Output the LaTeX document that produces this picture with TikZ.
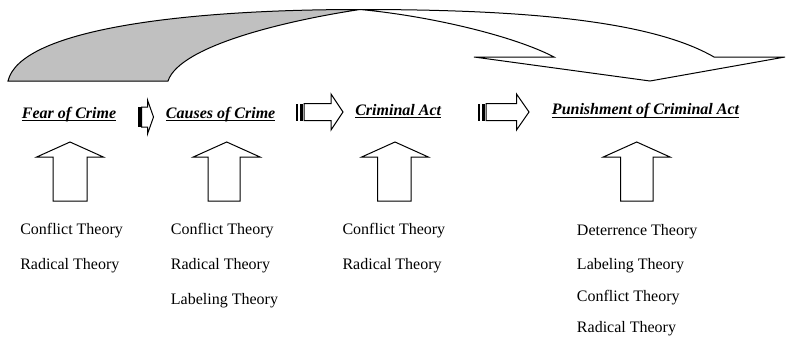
\documentclass[tikz,border=0pt]{standalone}
\usepackage{fontspec}
\setmainfont{Liberation Serif}
\newcommand{\ultitle}[1]{\setbox0\hbox{\bfseries\itshape #1}\rlap{\rule[-2.4pt]{\wd0}{0.6pt}}\box0}

\begin{document}
\begin{tikzpicture}[x=0.75pt,y=0.75pt,yscale=-1,xscale=1,
  title/.style={anchor=base west,inner sep=0pt,font=\fontsize{12}{14}\selectfont},
  theory/.style={anchor=base west,inner sep=0pt,font=\fontsize{12}{14}\selectfont},
  blk/.style={draw=black,line width=0.75pt,fill=white,line join=miter}]
\useasboundingbox (0,0) rectangle (787,339);

%Shape: Curved Down Arrow, back part
\draw  [blk,fill={rgb, 255:red, 192; green, 192; blue, 192 }] (8,81) .. controls (20,30) and (180,9.5) .. (360,9.5) .. controls (290,20) and (180,45) .. (168,81) -- cycle ;
%Shape: Curved Down Arrow, front part
\draw  [blk] (360,9.5) .. controls (520,9.5) and (650,20) .. (714,57) -- (785,57) -- (650,81) -- (474,57) -- (554,57) .. controls (514,36) and (430,16) .. (360,9.5) -- cycle ;

%Shape: Striped Right Arrow
\fill (137.5,107) rectangle (141.5,127) ;
\draw  [blk] (141.5,107) -- (147.5,107) -- (147.5,100) -- (153.5,117) -- (147.5,134) -- (147.5,127) -- (141.5,127) -- cycle ;
%Shape: Striped Right Arrow
\fill (296,103.5) rectangle (298,120.5) ;
\fill (299.5,103.5) rectangle (302.5,120.5) ;
\draw  [blk] (304,103.5) -- (331,103.5) -- (331,94) -- (343,112) -- (331,130) -- (331,120.5) -- (304,120.5) -- cycle ;
%Shape: Striped Right Arrow
\fill (478,103.5) rectangle (480,120.5) ;
\fill (481.5,103.5) rectangle (484.5,120.5) ;
\draw  [blk] (486,103.5) -- (516.5,103.5) -- (516.5,94) -- (529,112) -- (516.5,130) -- (516.5,120.5) -- (486,120.5) -- cycle ;

%Shape: Up Arrow
\draw  [blk] (70,142) -- (103.3,157) -- (87,157) -- (87,201) -- (53,201) -- (53,157) -- (36.7,157) -- cycle ;
%Shape: Up Arrow
\draw  [blk] (226.7,142) -- (260,157) -- (240,157) -- (240,201) -- (208,201) -- (208,157) -- (193.3,157) -- cycle ;
%Shape: Up Arrow
\draw  [blk] (395,142) -- (428.3,157) -- (411,157) -- (411,201) -- (377.5,201) -- (377.5,157) -- (361.7,157) -- cycle ;
%Shape: Up Arrow
\draw  [blk] (636.7,142) -- (670,157) -- (653,157) -- (653,201) -- (620.5,201) -- (620.5,157) -- (603.3,157) -- cycle ;

% Text Node
\draw (21.7,118) node [title] (fear) {\ultitle{Fear of Crime}};
% Text Node
\draw (165.7,118) node [title] (causes) {\ultitle{Causes of Crime}};
% Text Node
\draw (355,115) node [title] (act) {\ultitle{Criminal Act}};
% Text Node
\draw (551.7,114.5) node [title] (punish) {\ultitle{Punishment of Criminal Act}};

% Text Node
\draw (20,234.5) node [theory] (fearconf) {Conflict Theory};
% Text Node
\draw (20,269.5) node [theory] (fearrad) {Radical Theory};
% Text Node
\draw (170.7,234.5) node [theory] (causeconf) {Conflict Theory};
% Text Node
\draw (170.7,269.5) node [theory] (causerad) {Radical Theory};
% Text Node
\draw (170.7,304.5) node [theory] (causelab) {Labeling Theory};
% Text Node
\draw (342.3,234.5) node [theory] (actconf) {Conflict Theory};
% Text Node
\draw (342.3,269.5) node [theory] (actrad) {Radical Theory};
% Text Node
\draw (576.7,235) node [theory] (pundet) {Deterrence Theory};
% Text Node
\draw (576.7,269.5) node [theory] (punlab) {Labeling Theory};
% Text Node
\draw (576.7,301) node [theory] (punconf) {Conflict Theory};
% Text Node
\draw (576.7,332.5) node [theory] (punrad) {Radical Theory};

\end{tikzpicture}
\end{document}
